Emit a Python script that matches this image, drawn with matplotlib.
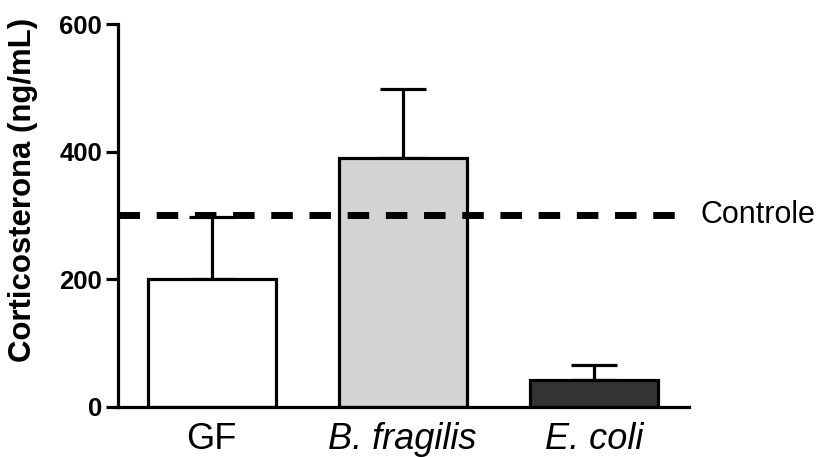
import matplotlib
matplotlib.use("Agg")
import matplotlib.pyplot as plt

categories = ["GF", "B. fragilis", "E. coli"]
values = [200, 390, 42]
errors = [98, 108, 24]
colors = ["#ffffff", "#d3d3d3", "#333333"]
control_value = 300
control_label = "Controle"
ylabel = "Corticosterona (ng/mL)"
yticks = [0, 200, 400, 600]

plt.rcParams['font.family'] = ['Liberation Sans', 'DejaVu Sans']

fig = plt.figure(figsize=(8.2, 4.57), dpi=100)
ax = fig.add_axes([0.1439, 0.110, 0.8405 - 0.1439, 0.947 - 0.110])

x = list(range(len(categories)))
ax.bar(x, values, width=0.67, color=colors, edgecolor="black", linewidth=2.3, zorder=2)
ax.errorbar(x, values, yerr=[[0]*len(values), errors], fmt="none", ecolor="black",
            elinewidth=2.3, capsize=16.5, capthick=2.3, zorder=1)

ax.axhline(control_value, color="black", linewidth=5.0, dashes=(3.1, 2.4), zorder=3,
           xmin=0, xmax=1.0)
ax.text(1.02, control_value, control_label, transform=ax.get_yaxis_transform(),
        ha="left", va="center", fontsize=22)

ax.set_xlim(-0.49, 2.5)
ax.set_ylim(0, 600)
ax.set_yticks(yticks)
ax.set_yticklabels([str(t) for t in yticks], fontsize=18.5, fontweight="bold")
ax.set_ylabel(ylabel, fontsize=22.4, fontweight="bold")
ax.yaxis.set_label_coords(-0.14, 0.567)

ax.set_xticks(x)
ax.set_xticklabels(categories, fontsize=26)
for lbl in ax.get_xticklabels()[1:]:
    lbl.set_style("italic")
ax.tick_params(axis="x", length=0, pad=11)
ax.tick_params(axis="y", length=8.5, width=2.3, pad=3)

for s in ["top", "right"]:
    ax.spines[s].set_visible(False)
for s in ["left", "bottom"]:
    ax.spines[s].set_linewidth(2.3)

fig.savefig("out.png", dpi=100)
